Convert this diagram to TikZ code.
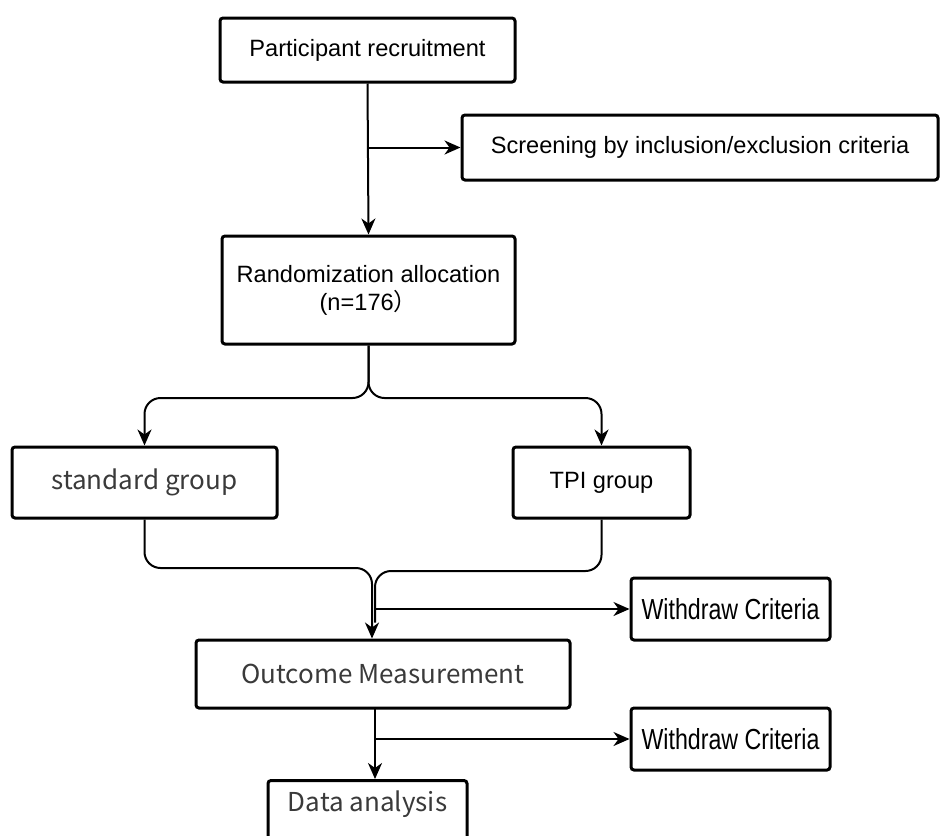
\documentclass[tikz,border=0pt]{standalone}
\usepackage{fontspec}
\setmainfont{Liberation Sans}
\newfontfamily\cjk{Noto Sans CJK SC}
\newfontfamily\narrowfont[FakeStretch=0.8]{Liberation Sans}
\usetikzlibrary{calc, positioning, arrows.meta}
\definecolor{lighttext}{HTML}{3A3A3A}
\tikzset{
    box/.style={draw, line width=1.5pt, rounded corners=1.5pt, fill=white,
        inner sep=0pt, align=center, font=\fontsize{11.8}{14}\selectfont},
    softbox/.style={box, text=lighttext, font=\cjk\fontsize{13}{15}\selectfont},
    withdrawbox/.style={box, font=\narrowfont\fontsize{14.5}{16}\selectfont},
    link/.style={line width=1pt}
}

\begin{document}
\begin{tikzpicture}[x=0.5pt, y=-0.5pt, >={Stealth[length=8pt, width=7pt, inset=2.5pt]}]
\useasboundingbox (0,0) rectangle (940,835);
\node[box, minimum width=147.5pt, minimum height=32pt] (recruit) at (367.5,50) {Participant recruitment};
\node[box, minimum width=238pt, minimum height=32.5pt] (screen) at (700,147.5) {Screening by inclusion/exclusion criteria};
\node[box, minimum width=146.5pt, minimum height=54pt] (random) at (368.5,290) {Randomization allocation\\(n=176{\cjk ）}};
\node[softbox, minimum width=132.5pt, minimum height=35.5pt] (standard) at (144.5,482.5) {standard group};
\node[box, minimum width=88.5pt, minimum height=35.5pt] (tpi) at (601.5,482.5) {TPI group};
\node[withdrawbox, minimum width=99.5pt, minimum height=31pt] (withdrawA) at (730.5,609) {Withdraw Criteria};
\node[softbox, minimum width=187pt, minimum height=34pt] (outcome) at (383,674) {Outcome Measurement};
\node[withdrawbox, minimum width=99.5pt, minimum height=31pt] (withdrawB) at (730.5,739) {Withdraw Criteria};
\node[softbox, anchor=north, minimum width=99.5pt, text height=15.5pt, text depth=20pt] (analysis) at (367.5,779) {Data analysis};

% recruitment and screening
\draw[link, ->] (recruit.south) -- (random.north);
\coordinate (screenfork) at (recruit.south |- screen.west);
\draw[link, ->] (screenfork) -- (screen.west);

% allocation to the two groups
\coordinate (split) at (368.5,398);
\draw[link, ->, rounded corners=8pt] (random.south) -- (split) -| (standard.north);
\draw[link, ->, rounded corners=8pt] (random.south) -- (split) -| (tpi.north);

% merge into outcome measurement
\coordinate (mergeL) at (372,568);
\coordinate (mergeR) at (375,571);
\draw[link, ->, rounded corners=8pt] (standard.south) |- (mergeL) -- (mergeL |- outcome.north);
\draw[link, rounded corners=8pt] (tpi.south) |- (mergeR) -- ($(mergeR |- outcome.north)+(0,-16)$);
\coordinate (forkA) at (mergeR |- withdrawA.west);
\draw[link, ->] (forkA) -- (withdrawA.west);

% outcome to analysis
\coordinate (outfoot) at (375,708);
\draw[link, ->] (outfoot) -- (outfoot |- analysis.north);
\coordinate (forkB) at (outfoot |- withdrawB.west);
\draw[link, ->] (forkB) -- (withdrawB.west);
\end{tikzpicture}
\end{document}
